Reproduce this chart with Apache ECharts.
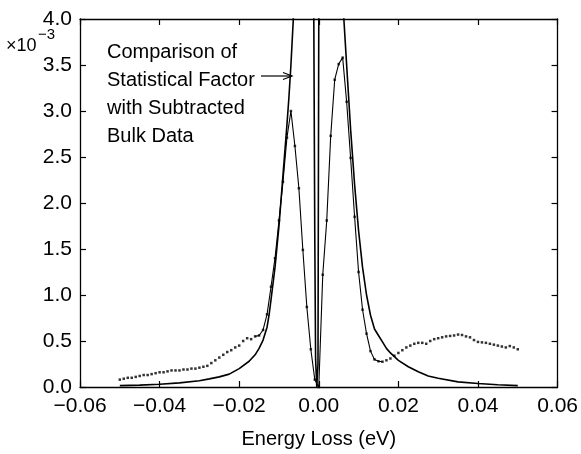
<!DOCTYPE html>
<html>
<head>
<meta charset="utf-8">
<script src="https://cdn.jsdelivr.net/npm/echarts@6/dist/echarts.min.js"></script>
<style>
html,body{margin:0;padding:0;background:#fff;}
#chart{width:581px;height:454px;}
</style>
</head>
<body>
<div id="chart"></div>
<script>
// ---- data (y in units of 1e-3) ----
const dataX = [
-0.050,-0.049,-0.048,-0.047,-0.046,-0.045,-0.044,-0.043,-0.042,-0.041,
-0.040,-0.039,-0.038,-0.037,-0.036,-0.035,-0.034,-0.033,-0.032,-0.031,
-0.030,-0.029,-0.028,-0.027,-0.026,-0.025,-0.024,-0.023,-0.022,-0.021,
-0.020,-0.019,-0.018,-0.017,-0.016,-0.015,-0.014,-0.013,-0.012,-0.011,
-0.010,-0.009,-0.008,-0.007,-0.006,-0.005,-0.004,-0.003,-0.002,-0.001,
0.000,0.001,0.002,0.003,0.004,0.005,0.006,0.007,0.008,0.009,
0.010,0.011,0.012,0.013,0.014,0.015,0.016,0.017,0.018,0.019,
0.020,0.021,0.022,0.023,0.024,0.025,0.026,0.027,0.028,0.029,
0.030,0.031,0.032,0.033,0.034,0.035,0.036,0.037,0.038,0.039,
0.040,0.041,0.042,0.043,0.044,0.045,0.046,0.047,0.048,0.049,0.050];
const dataY = [
0.08,0.09,0.10,0.10,0.11,0.12,0.13,0.13,0.14,0.15,
0.16,0.16,0.17,0.18,0.18,0.18,0.19,0.19,0.20,0.20,
0.21,0.22,0.23,0.26,0.29,0.32,0.35,0.38,0.40,0.43,
0.45,0.50,0.53,0.52,0.55,0.56,0.62,0.79,1.09,1.40,
1.81,2.23,2.71,3.00,2.62,2.16,1.49,0.87,0.41,0.08,
0.00,1.22,1.81,2.73,3.34,3.51,3.58,3.10,2.49,1.85,
1.25,0.84,0.58,0.39,0.30,0.28,0.275,0.29,0.31,0.34,
0.37,0.40,0.43,0.45,0.47,0.48,0.48,0.47,0.50,0.52,
0.53,0.54,0.55,0.555,0.56,0.57,0.565,0.55,0.54,0.51,
0.49,0.485,0.48,0.47,0.46,0.45,0.44,0.43,0.445,0.43,0.41];

const factorX = [
-0.050,-0.045,-0.040,-0.035,-0.030,-0.0275,-0.025,-0.0225,-0.020,-0.0175,
-0.016,-0.015,-0.014,-0.013,-0.0125,-0.012,-0.011,-0.010,-0.009,-0.008,
-0.0075,-0.007,-0.0064,-0.006,-0.005,-0.004,-0.003,-0.002,-0.0015,-0.00125,
-0.001,-0.0008,-0.0005,-0.0002,0.000,0.0005,0.001,0.002,0.003,0.004,
0.005,0.0063,0.007,0.008,0.009,0.010,0.011,0.012,0.013,0.014,
0.015,0.016,0.017,0.018,0.020,0.0225,0.025,0.0275,0.030,0.035,
0.040,0.045,0.050];
const factorY = [
0.015,0.020,0.030,0.045,0.068,0.088,0.11,0.14,0.20,0.28,
0.35,0.42,0.51,0.65,0.78,0.95,1.30,1.75,2.30,2.85,
3.15,3.50,4.00,4.50,5.50,6.50,7.00,6.50,5.00,4.00,
1.60,0.30,0.00,0.25,4.00,6.00,7.00,7.50,7.00,6.00,
5.00,4.00,3.50,2.80,2.20,1.70,1.30,1.00,0.78,0.63,
0.56,0.49,0.42,0.37,0.29,0.22,0.165,0.12,0.095,0.056,
0.038,0.025,0.015];

const xTickLabels = ['\u22120.06','\u22120.04','\u22120.02','0.00','0.02','0.04','0.06'];
const yTickLabels = ['0.0','0.5','1.0','1.5','2.0','2.5','3.0','3.5','4.0'];
const annotationLines = ['Comparison of','Statistical Factor','with Subtracted','Bulk Data'];
const xAxisTitle = 'Energy Loss (eV)';
const scaleBase = '\u00d710';
const scaleExp = '\u22123';
const peakLineRange = [-0.016, 0.016];

// ---- build ----
const dotPts = dataX.map((x, i) => [x, dataY[i]]);
const dotLinePts = dotPts.filter(p => p[0] >= peakLineRange[0] && p[0] <= peakLineRange[1]);
const factorPts = factorX.map((x, i) => [x, factorY[i]]);

const FONT = "Liberation Sans, Arial, Helvetica, sans-serif";
const chart = echarts.init(document.getElementById('chart'), null, {renderer: 'canvas'});
const axisLine = {show: true, onZero: false, lineStyle: {color: '#000', width: 1.3}};
const tick = {show: true, inside: true, length: 6, lineStyle: {color: '#000', width: 1.2}};

chart.setOption({
  animation: false,
  backgroundColor: '#fff',
  grid: {left: 80, right: 21, top: 19, bottom: 67, containLabel: false},
  xAxis: [
    {type: 'value', min: -0.06, max: 0.06, interval: 0.02, position: 'bottom',
     axisLine: axisLine, axisTick: tick, splitLine: {show: false},
     axisLabel: {color: '#000', fontSize: 21, fontFamily: FONT, margin: 9,
       formatter: (v, i) => xTickLabels[i]},
     name: xAxisTitle, nameLocation: 'middle', nameGap: 42,
     nameTextStyle: {color: '#000', fontSize: 20, fontFamily: FONT}},
    {type: 'value', min: -0.06, max: 0.06, interval: 0.02, position: 'top',
     axisLine: axisLine, axisTick: tick, axisLabel: {show: false}, splitLine: {show: false}}
  ],
  yAxis: [
    {type: 'value', min: 0, max: 4, interval: 0.5, position: 'left',
     axisLine: axisLine, axisTick: tick, splitLine: {show: false},
     axisLabel: {color: '#000', fontSize: 21, fontFamily: FONT, margin: 8,
       formatter: (v, i) => yTickLabels[i]}},
    {type: 'value', min: 0, max: 4, interval: 0.5, position: 'right',
     axisLine: axisLine, axisTick: tick, axisLabel: {show: false}, splitLine: {show: false}}
  ],
  series: [
    {type: 'line', data: factorPts, showSymbol: false, clip: true,
     lineStyle: {color: '#000', width: 1.6}, z: 3},
    {type: 'line', data: dotLinePts, showSymbol: false, clip: true,
     lineStyle: {color: '#000', width: 1.1}, z: 2},
    {type: 'scatter', data: dotPts, symbol: 'rect', symbolSize: 2.5, clip: true,
     itemStyle: {color: '#000'}, z: 4}
  ],
  graphic: [
    {type: 'text', left: 107, top: 38, style: {
      text: annotationLines.join('\n'), fill: '#000', fontSize: 20, fontFamily: FONT, lineHeight: 28}},
    {type: 'polyline', shape: {points: [[261, 76], [292, 76]]}, style: {stroke: '#000', lineWidth: 1.2, fill: null}},
    {type: 'polyline', shape: {points: [[283, 72.5], [292, 76], [283, 79.5]]}, style: {stroke: '#000', lineWidth: 1.2, fill: null}},
    {type: 'text', left: 6, top: 37, style: {text: scaleBase, fill: '#000', fontSize: 18, fontFamily: FONT}},
    {type: 'text', left: 38, top: 27, style: {text: scaleExp, fill: '#000', fontSize: 15, fontFamily: FONT}}
  ]
});
</script>
</body>
</html>
